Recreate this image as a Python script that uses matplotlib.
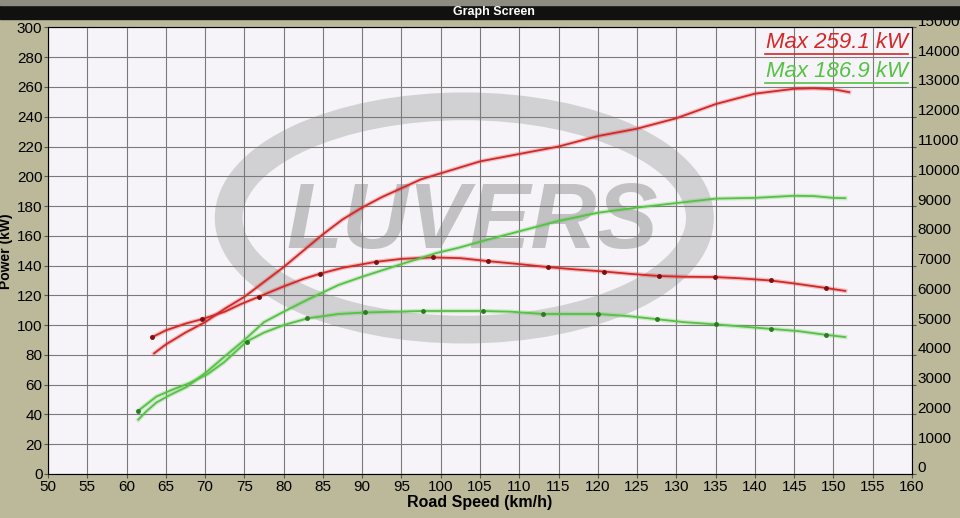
import matplotlib.pyplot as plt
import matplotlib.patches as mpatches
import matplotlib.transforms as mtrans
import numpy as np

plt.rcParams['font.family'] = ['Liberation Sans', 'DejaVu Sans']

# red run - power (kW)
red_pw_speed = [63.5, 65, 67.5, 70, 72.5, 75, 77.5, 80, 82.5, 85, 87.5, 90, 92.5, 95, 97.5,
                100, 102.5, 105, 110, 115, 120, 125, 130, 135, 140, 145, 147.5, 150, 152]
red_pw = [81, 87, 95, 102, 111, 119, 129, 139, 150, 161, 171, 179, 186, 192, 198,
          202, 206, 210, 215, 220, 227, 232, 239, 248.5, 255.5, 258.8, 259.1, 258.5, 256.5]

# red run - tractive effort (shown on kW scale, right axis = x50)
red_te_speed = [63.3, 65, 67.5, 69.6, 72.5, 74.5, 76.8, 80, 82.5, 84.6, 87.5, 91.7, 95, 99,
                102.5, 106, 110, 113.6, 117, 120.8, 124, 127.8, 131, 134.9, 138, 142, 145, 149, 151.5]
red_te = [92, 96.5, 101, 104, 109, 114, 119, 126, 131, 134.5, 138.5, 142.5, 144.5, 145.5,
          145, 143, 141, 139, 137.5, 136, 134.5, 133, 132.5, 132.3, 131.5, 130, 128, 125, 123]
red_dots = [0, 3, 6, 9, 11, 13, 15, 17, 19, 21, 23, 25, 27]

# green run - power (kW)
grn_pw_speed = [61.5, 62.5, 63.8, 65.5, 67.7, 70.3, 72.5, 75, 77.5, 80, 83, 87, 90, 94.7,
                99.5, 102.3, 106, 110, 115, 120, 125, 130, 135, 140, 145, 147.5, 150, 151.5]
grn_pw = [36.5, 42, 48, 53, 58.6, 69, 79, 90, 102, 109, 117, 127, 132.5, 140.5,
          148.5, 152, 157.5, 163, 170, 175.5, 179, 182, 185, 185.5, 186.9, 186.7, 185.5, 185.3]

# green run - tractive effort
grn_te_speed = [61.5, 63.8, 66, 68, 70.3, 72.4, 75.3, 77.5, 80, 83, 87, 90.4, 94, 97.7, 101,
                105.4, 109, 113, 116.5, 120, 124, 127.5, 131, 135, 138.5, 142, 145.5, 149, 151.5]
grn_te = [42.5, 52, 57, 61, 67, 75, 89, 95, 100, 104.5, 107.5, 108.5, 109, 109.5, 109.5,
          109.5, 109, 107.5, 107.5, 107.5, 106, 104, 102, 100.5, 99, 97.5, 96, 93.5, 92]
grn_dots = [0, 6, 9, 11, 13, 15, 17, 19, 21, 23, 25, 27]

red = '#d42828'
green = '#55c244'
bg = '#bbb99a'

fig = plt.figure(figsize=(9.6, 5.18), dpi=100, facecolor=bg)

# window title bar
fig.patches.append(mpatches.Rectangle((0, 0.963), 1, 0.027, transform=fig.transFigure,
                                      color='#111111', zorder=0))
fig.patches.append(mpatches.Rectangle((0, 0.99), 1, 0.01, transform=fig.transFigure,
                                      color='#8c8c80', zorder=0))
fig.text(0.515, 0.976, 'Graph Screen', color='white', fontsize=9, fontweight='bold',
         ha='center', va='center')

ax = fig.add_axes([0.05, 0.085, 0.9, 0.862])
ax.set_facecolor('#f6f4f8')

# watermark
ring = mpatches.Ellipse((103, 172), 60, 150, fill=False, lw=20, ec='#b4b4b4', alpha=0.55, zorder=0)
ax.add_patch(ring)
ax.text(104, 168, 'LUVERS', fontsize=66, fontweight='bold', style='italic', color='#a0a0a0',
        alpha=0.6, ha='center', va='center', zorder=0)

for xs, ys, c, dots in [(red_pw_speed, red_pw, red, None), (red_te_speed, red_te, red, red_dots),
                        (grn_pw_speed, grn_pw, green, None), (grn_te_speed, grn_te, green, grn_dots)]:
    ax.plot(xs, ys, color=c, lw=3.2, alpha=0.25, zorder=2)
    ax.plot(xs, ys, color=c, lw=1.3, zorder=3)
    if dots:
        ax.plot(np.array(xs)[dots], np.array(ys)[dots], 'o', color='#7a1010' if c == red else '#2e7a22',
                ms=2.5, zorder=4)

ax.set_xlim(50, 160)
ax.set_ylim(0, 300)
ax.set_xticks(np.arange(50, 161, 5))
ax.set_yticks(np.arange(0, 301, 20))
ax.grid(True, color='#7a7a7a', lw=0.8)
ax.tick_params(labelsize=11, length=3, color='#555555', pad=1)
for s in ax.spines.values():
    s.set_color('#9090a0')

ax.set_xlabel('Road Speed (km/h)', fontsize=11.5, fontweight='bold', labelpad=1)
ax.set_ylabel('Power (kW)', fontsize=10, fontweight='bold')
ax.yaxis.set_label_coords(-0.041, 0.5)

ax2 = ax.twinx()
ax2.set_ylim(0, 15000)
ax2.set_yticks(np.arange(0, 15001, 1000))
ax2.tick_params(labelsize=11, length=3, color='#555555', pad=1)
# right labels sit a little higher in the photo
shift = mtrans.ScaledTranslation(0, 7 / 100, fig.dpi_scale_trans)
for lbl in ax2.get_yticklabels():
    lbl.set_transform(lbl.get_transform() + shift)

ax.text(0.995, 0.99, 'Max 259.1 kW', transform=ax.transAxes, color=red, fontsize=16,
        style='italic', ha='right', va='top')
ax.plot([0.83, 0.995], [0.94, 0.94], transform=ax.transAxes, color=red, lw=1.2)
ax.text(0.995, 0.925, 'Max 186.9 kW', transform=ax.transAxes, color=green, fontsize=16,
        style='italic', ha='right', va='top')
ax.plot([0.83, 0.995], [0.875, 0.875], transform=ax.transAxes, color=green, lw=1.2)

plt.savefig('out.png', dpi=100, facecolor=bg)
